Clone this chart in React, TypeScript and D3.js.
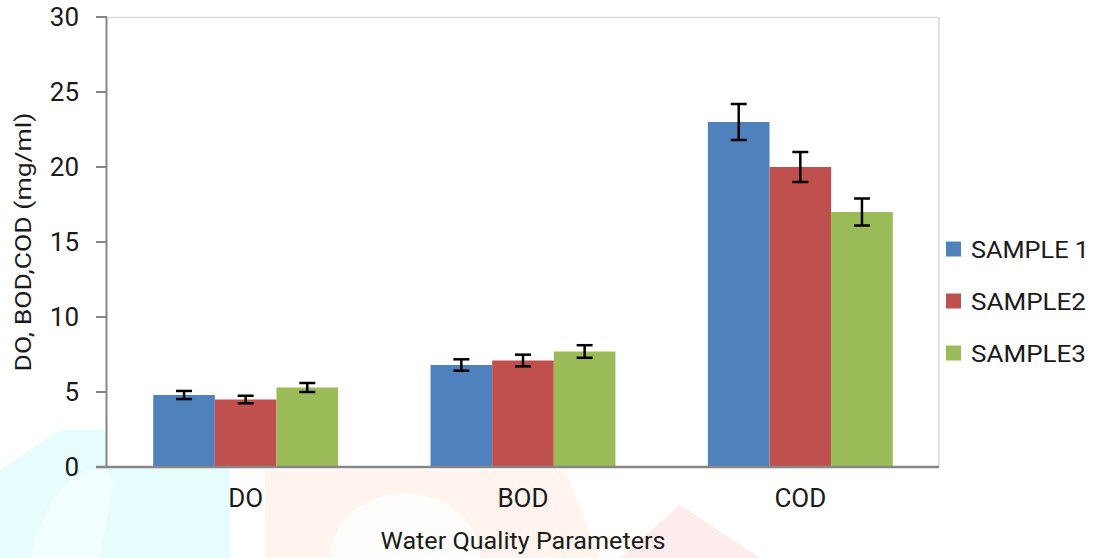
import React from "react";
import * as d3 from "d3";

const categories = ["DO", "BOD", "COD"];
const seriesNames = ["SAMPLE 1", "SAMPLE2", "SAMPLE3"];
const sample1 = [4.8, 6.8, 23];
const sample2 = [4.5, 7.1, 20];
const sample3 = [5.3, 7.7, 17];
const err1 = [0.27, 0.38, 1.2];
const err2 = [0.25, 0.39, 1.0];
const err3 = [0.3, 0.42, 0.9];
const yTicks = [0, 5, 10, 15, 20, 25, 30];
const colors = ["#4f81bd", "#c0504d", "#9bbb59"];
const legendTextLen = [118, 115, 115];

const values = [sample1, sample2, sample3];
const errors = [err1, err2, err3];

export default function App() {
  const W = 1099, H = 558;
  const left = 107, right = 939, top = 17, bottom = 467;
  const x0 = d3.scaleBand<string>().domain(categories).range([left, right]).padding(0);
  const x1 = d3.scaleBand<string>().domain(seriesNames).range([0, x0.bandwidth()]).paddingInner(0).paddingOuter(0.75);
  const y = d3.scaleLinear().domain([0, 30]).range([bottom, top]);
  const font = "Roboto, 'Noto Sans', sans-serif";
  const capW = 16;
  const txt = "#1a1a1a";

  return (
    <svg width={W} height={H} style={{ position: "absolute", left: 0, top: 0, background: "#fff" }} fontFamily={font}>
      {/* faint watermark */}
      <g>
        <path d="M0,470 L60,430 L200,430 L230,470 L230,558 L0,558 Z" fill="#e6fcfd" />
        <path d="M30,558 Q50,480 90,470 Q120,465 110,500 L100,558 Z" fill="#f3fefe" />
        <path d="M265,470 L565,470 L600,558 L265,558 Z" fill="#fff5ee" />
        <path d="M330,558 A75,65 0 0 1 480,558 Z" fill="#fffdfb" />
        <path d="M620,558 L680,505 L760,558 Z" fill="#fdecec" />
      </g>
      {/* plot background */}
      <rect x={left} y={top} width={right - left} height={bottom - top} fill="#fff" />
      <line x1={left} x2={right} y1={top + 0.5} y2={top + 0.5} stroke="#d9d9d9" strokeWidth={1.5} />
      <line x1={right} x2={right} y1={top} y2={bottom} stroke="#d9d9d9" strokeWidth={1.5} />

      {/* bars */}
      {categories.map((c, ci) =>
        seriesNames.map((s, si) => {
          const v = values[si][ci];
          const bx = (x0(c) as number) + (x1(s) as number);
          return (
            <rect key={c + s} x={bx} y={y(v)} width={x1.bandwidth()} height={bottom - y(v)} fill={colors[si]} />
          );
        })
      )}
      {/* error bars */}
      {categories.map((c, ci) =>
        seriesNames.map((s, si) => {
          const v = values[si][ci];
          const e = errors[si][ci];
          const cx = (x0(c) as number) + (x1(s) as number) + x1.bandwidth() / 2;
          return (
            <g key={"e" + c + s} stroke="#000" strokeWidth={2.5}>
              <line x1={cx} x2={cx} y1={y(v + e)} y2={y(v - e)} />
              <line x1={cx - capW / 2} x2={cx + capW / 2} y1={y(v + e)} y2={y(v + e)} />
              <line x1={cx - capW / 2} x2={cx + capW / 2} y1={y(v - e)} y2={y(v - e)} />
            </g>
          );
        })
      )}

      {/* axes */}
      <line x1={left - 0.5} x2={left - 0.5} y1={top} y2={bottom} stroke="#868686" strokeWidth={2} />
      {yTicks.map((t) => (
        <g key={t}>
          <line x1={96} x2={left} y1={y(t)} y2={y(t)} stroke="#868686" strokeWidth={2} />
          <text x={79} y={y(t) + 9} textAnchor="end" fontSize={26} fill={txt}>{t}</text>
        </g>
      ))}
      <line x1={96} x2={right} y1={bottom} y2={bottom} stroke="#868686" strokeWidth={2.5} />
      {categories.map((c) => (
        <text key={c} x={(x0(c) as number) + x0.bandwidth() / 2} y={507} textAnchor="middle" fontSize={26} fill={txt}>{c}</text>
      ))}
      <text x={523} y={549} textAnchor="middle" fontSize={24} fill={txt} textLength={285} lengthAdjust="spacingAndGlyphs">Water Quality Parameters</text>
      <text transform="translate(31,242) rotate(-90)" textAnchor="middle" fontSize={22} fill={txt} textLength={259} lengthAdjust="spacingAndGlyphs">DO, BOD,COD (mg/ml)</text>

      {/* legend */}
      {seriesNames.map((s, i) => {
        const cy = 249 + i * 52;
        return (
          <g key={s}>
            <rect x={946} y={cy - 7.5} width={15} height={15} fill={colors[i]} />
            <text x={971} y={cy + 8.5} fontSize={23} fill={txt} textLength={legendTextLen[i]} lengthAdjust="spacingAndGlyphs">{s}</text>
          </g>
        );
      })}
    </svg>
  );
}
